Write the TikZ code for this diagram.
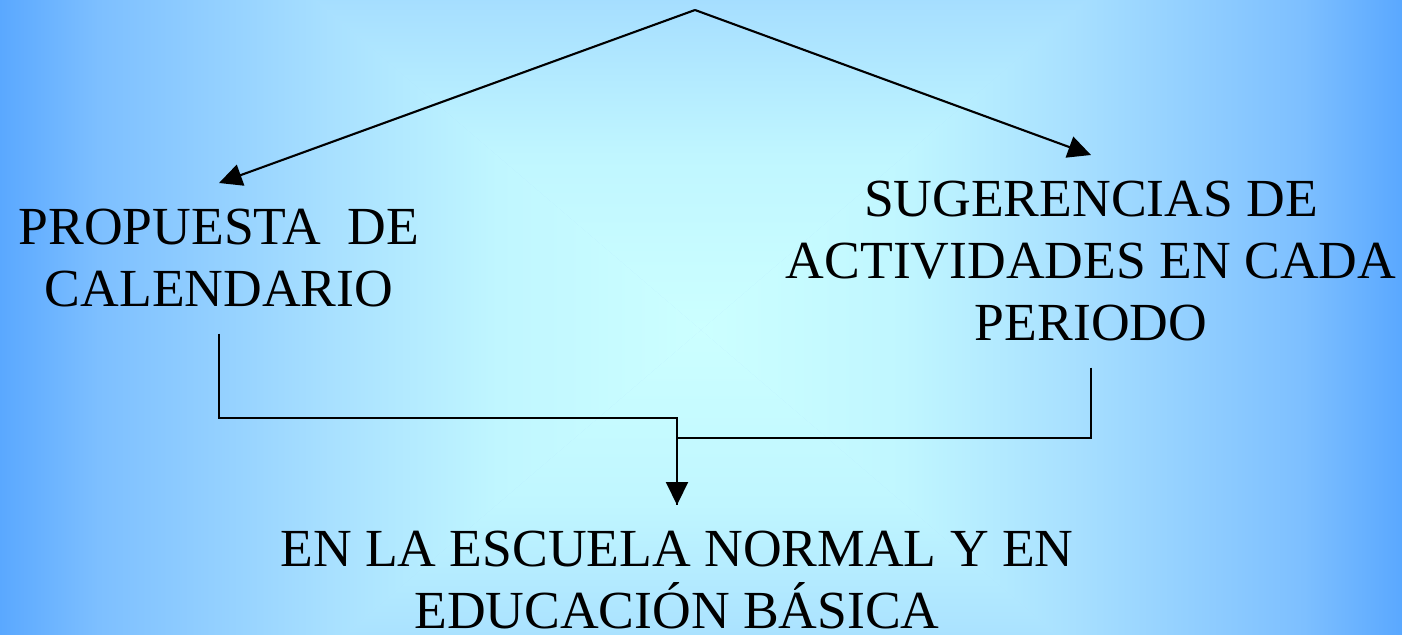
\documentclass[tikz,border=0pt]{standalone}
\usepackage{fontspec}
\setmainfont{Liberation Serif}
\usetikzlibrary{arrows.meta, positioning}
% slide background: light cyan in the middle, blue at the edges
\pgfdeclarehorizontalshading{slideramp}{100bp}{rgb(0bp)=(0.353,0.659,1); rgb(25bp)=(0.353,0.659,1); rgb(32bp)=(0.49,0.749,1); rgb(48.5bp)=(0.659,0.878,1); rgb(60.5bp)=(0.753,0.965,1); rgb(75bp)=(0.8,1,1); rgb(100bp)=(0.8,1,1)}

\begin{document}
\begin{tikzpicture}[
    x=0.02cm, y=-0.02cm,
    lbl/.style={align=center, inner xsep=0pt, inner ysep=0.52cm,
                font=\fontsize{30.5}{35.3}\selectfont},
    arr/.style={-{Triangle[length=0.46cm, width=0.44cm]}, line width=1.2pt},
    link/.style={line width=1.2pt},
    ramp/.style={shading=slideramp, shading angle=#1},
  ]
    \useasboundingbox (0,0) rectangle (1402,635);
    \begin{scope}
      \clip (0,0) rectangle (1402,635);
      \coordinate (mid) at (701,330);
      \fill[blue!40!cyan!30] (0,0) rectangle (1402,635);
      \shade[ramp=0]   (0,-270) -- (0,930) -- (mid) -- cycle;
      \shade[ramp=180] (1402,-270) -- (1402,930) -- (mid) -- cycle;
      \shade[ramp=270] (0,-270) -- (1402,-270) -- (mid) -- cycle;
      \shade[ramp=90]  (0,930) -- (1402,930) -- (mid) -- cycle;
    \end{scope}

    \node[lbl, anchor=north] (prop) at (219,183) {PROPUESTA\ \ DE\\CALENDARIO};
    \node[lbl, anchor=north] (sug) at (1091,155) {SUGERENCIAS DE\\ACTIVIDADES EN CADA\\PERIODO};
    \node[lbl, anchor=north] (edu) at (677,505) {EN LA ESCUELA NORMAL Y EN\\EDUCACIÓN BÁSICA};
    \coordinate (apex) at (695,10);

    \draw[arr] (apex) -- (prop.north);
    \draw[arr] (apex) -- (sug.north);
    \draw[link] (sug.south) -- ++(0,70) -| (edu.north);
    \draw[arr] (prop.south) -- ++(0,84) -| (edu.north);
  \end{tikzpicture}
\end{document}
